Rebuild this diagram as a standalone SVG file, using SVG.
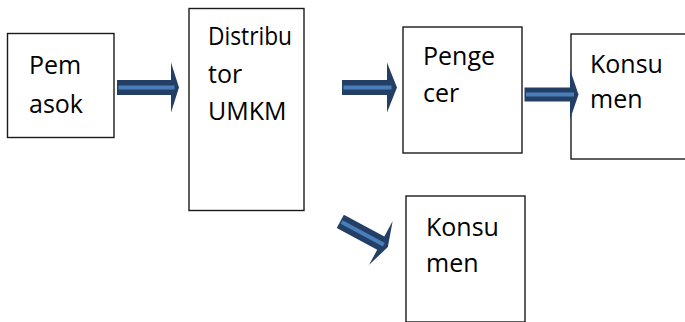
<svg xmlns="http://www.w3.org/2000/svg" width="685" height="322" viewBox="0 0 685 322">
  <style>
    .box { fill: #ffffff; stroke: #1a1a1a; stroke-width: 1.4; }
    .lbl { font-family: "Open Sans", "Noto Sans", "Liberation Sans", sans-serif; font-size: 25px; fill: #000000; }
    .shaft { fill: #243f66; }
    .head { fill: #243f66; }
    .core { fill: #4a7ebb; }
  </style>
  <defs>
    <!-- block arrow pointing right, origin at tail centre; shaft 46 long -->
    <g id="blockArrow">
      <rect class="shaft" x="0" y="-7.5" width="47" height="15"/>
      <polygon class="head" points="46,-25 54,0 46,25"/>
      <rect class="core" x="1.5" y="-2" width="48" height="4"/>
    </g>
  </defs>

  <rect width="685" height="322" fill="#ffffff"/>

  <g id="pemasok">
    <rect class="box" x="7.5" y="33.5" width="106.5" height="104"/>
    <text class="lbl" x="29" y="74">Pem</text>
    <text class="lbl" x="29" y="112.5">asok</text>
  </g>

  <g id="distributor">
    <rect class="box" x="189" y="8.5" width="115" height="202"/>
    <text class="lbl" x="208" y="45" textLength="84" lengthAdjust="spacingAndGlyphs">Distribu</text>
    <text class="lbl" x="208" y="83">tor</text>
    <text class="lbl" x="208" y="120">UMKM</text>
  </g>

  <g id="pengecer">
    <rect class="box" x="403" y="27" width="119" height="126"/>
    <text class="lbl" x="423" y="65">Penge</text>
    <text class="lbl" x="423" y="101.5">cer</text>
  </g>

  <g id="konsumen-1">
    <rect class="box" x="571" y="34" width="130" height="125"/>
    <text class="lbl" x="590" y="73">Konsu</text>
    <text class="lbl" x="590" y="108">men</text>
  </g>

  <g id="konsumen-2">
    <rect class="box" x="406" y="196" width="119" height="126"/>
    <text class="lbl" x="426" y="236">Konsu</text>
    <text class="lbl" x="426" y="271.5">men</text>
  </g>

  <g id="connectors">
    <!-- Pemasok to Distributor -->
    <g transform="translate(117,87.5)">
      <rect class="shaft" x="0" y="-7.5" width="55" height="15"/>
      <polygon class="head" points="54,-25 62,0 54,25"/>
      <rect class="core" x="1.5" y="-2" width="56" height="4"/>
    </g>
    <!-- Distributor to Pengecer -->
    <g transform="translate(342,87.5)">
      <rect class="shaft" x="0" y="-7.5" width="46" height="15"/>
      <polygon class="head" points="45,-25 55,0 45,25"/>
      <rect class="core" x="1.5" y="-2" width="48" height="4"/>
    </g>
    <!-- Pengecer to Konsumen -->
    <g transform="translate(524.5,94.5)">
      <rect class="shaft" x="0" y="-7" width="46.5" height="14"/>
      <polygon class="head" points="45.5,-25 54,0 45.5,25"/>
      <rect class="core" x="1.5" y="-2" width="48" height="4"/>
    </g>
    <!-- Distributor to Konsumen -->
    <use href="#blockArrow" transform="translate(340.3,221.3) rotate(28.3)"/>
  </g>
</svg>
